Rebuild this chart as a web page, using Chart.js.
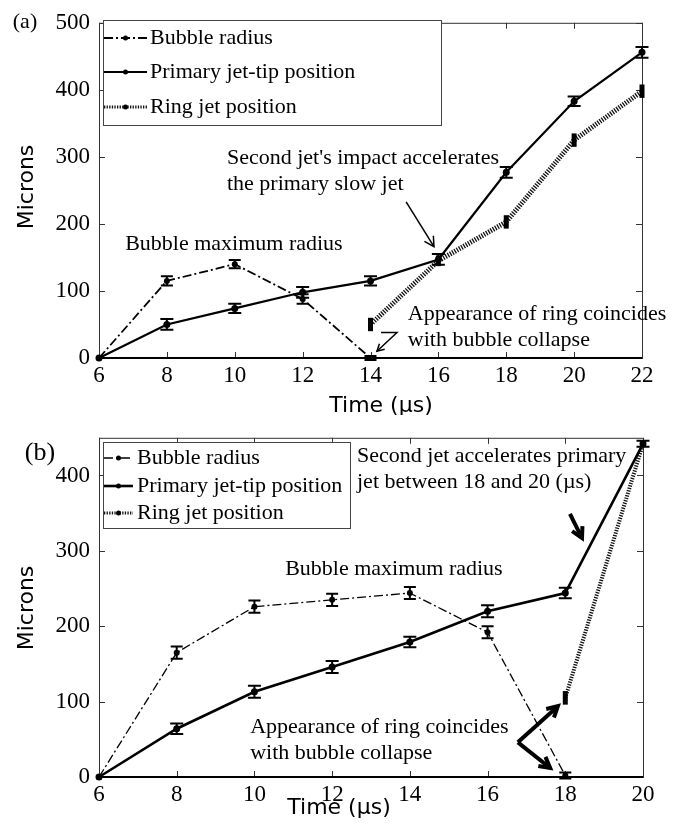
<!DOCTYPE html>
<html>
<head>
<meta charset="utf-8">
<script src="https://cdn.jsdelivr.net/npm/chart.js@4"></script>
<style>
  html, body { margin: 0; padding: 0; background: #fff; }
  #wrap { position: relative; width: 678px; height: 830px; }
  canvas { position: absolute; left: 0; }
  #chartA { top: 0; }
  #chartB { top: 415px; }
</style>
</head>
<body>
<div id="wrap">
  <canvas id="chartA" width="678" height="415"></canvas>
  <canvas id="chartB" width="678" height="415"></canvas>
</div>
<script>
// Panel (a)
const bubbleTimeA = [6, 8, 10, 12, 14];
const bubbleA = [0, 115, 140, 88, 0];
const bubbleErrA = [0, 7, 6, 7, 3];
const primaryTimeA = [6, 8, 10, 12, 14, 16, 18, 20, 22];
const primaryA = [0, 50, 74, 98, 115, 147, 277, 383, 456];
const primaryErrA = [0, 8, 7, 8, 7, 8, 8, 7, 8];
const ringTimeA = [14, 16, 18, 20, 22];
const ringA = [50, 145, 203, 325, 398];
const ringErrA = [10, 8, 10, 10, 10];
const xTicksA = [6, 8, 10, 12, 14, 16, 18, 20, 22];
const yTicksA = [0, 100, 200, 300, 400, 500];

// Panel (b)
const bubbleTimeB = [6, 8, 10, 12, 14, 16, 18];
const bubbleB = [0, 165, 226, 235, 244, 192, 2];
const bubbleErrB = [0, 8, 8, 8, 8, 8, 4];
const primaryTimeB = [6, 8, 10, 12, 14, 16, 18, 20];
const primaryB = [0, 64, 113, 146, 179, 220, 244, 442];
const primaryErrB = [0, 7, 8, 8, 7, 8, 7, 4];
const ringTimeB = [18, 20];
const ringB = [105, 442];
const ringErrB = [9, 4];
const xTicksB = [6, 8, 10, 12, 14, 16, 18, 20];
const yTicksB = [0, 100, 200, 300, 400];

const seriesLabels = ['Bubble radius', 'Primary jet-tip position', 'Ring jet position'];

const SERIF = '"Liberation Serif", "Times New Roman", serif';
const SANS = '"DejaVu Sans", Verdana, sans-serif';

function series(label, times, values, errors, style) {
    return Object.assign({
        label,
        data: times.map((t, i) => ({ x: t, y: values[i] })),
        errors,
        borderColor: '#000',
        pointBackgroundColor: '#000',
        pointBorderWidth: 0,
        tension: 0,
        clip: false
    }, style);
}

// Frame with inward ticks on all four sides
const framePlugin = {
    id: 'frame',
    beforeDatasetsDraw(chart) {
        const { ctx, chartArea: a, scales } = chart;
        ctx.save();
        ctx.strokeStyle = '#333';
        ctx.lineWidth = 1;
        ctx.strokeRect(a.left + 0.5, a.top + 0.5, a.right - a.left, a.bottom - a.top);
        ctx.beginPath();
        scales.x.ticks.forEach(t => {
            const x = Math.round(scales.x.getPixelForValue(t.value)) + 0.5;
            ctx.moveTo(x, a.bottom); ctx.lineTo(x, a.bottom - 6);
            ctx.moveTo(x, a.top); ctx.lineTo(x, a.top + 6);
        });
        scales.y.ticks.forEach(t => {
            const y = Math.round(scales.y.getPixelForValue(t.value)) + 0.5;
            ctx.moveTo(a.left, y); ctx.lineTo(a.left + 6, y);
            ctx.moveTo(a.right, y); ctx.lineTo(a.right - 6, y);
        });
        ctx.stroke();
        ctx.strokeStyle = '#000';
        ctx.lineWidth = 2;
        ctx.beginPath();
        ctx.moveTo(a.left, a.bottom); ctx.lineTo(a.right, a.bottom);
        ctx.stroke();
        ctx.restore();
    }
};

// Error bars from dataset.errors
const errorBarPlugin = {
    id: 'errorBars',
    afterDatasetsDraw(chart) {
        const ctx = chart.ctx, y = chart.scales.y;
        chart.data.datasets.forEach((ds, i) => {
            if (!ds.errors) return;
            const meta = chart.getDatasetMeta(i);
            ctx.save();
            ctx.strokeStyle = '#000';
            ctx.lineWidth = ds.errWidth;
            ctx.setLineDash([]);
            meta.data.forEach((pt, j) => {
                const e = ds.errors[j];
                if (!e) return;
                const v = ds.data[j].y;
                const top = y.getPixelForValue(v + e), bot = y.getPixelForValue(v - e);
                const c = ds.capWidth / 2;
                ctx.beginPath();
                ctx.moveTo(pt.x, top); ctx.lineTo(pt.x, bot);
                if (c) {
                    ctx.moveTo(pt.x - c, top); ctx.lineTo(pt.x + c, top);
                    ctx.moveTo(pt.x - c, bot); ctx.lineTo(pt.x + c, bot);
                }
                ctx.stroke();
            });
            ctx.restore();
        });
    }
};

// Boxed legend inside the plot
const boxLegendPlugin = {
    id: 'boxLegend',
    afterDraw(chart, args, opts) {
        const ctx = chart.ctx;
        const [x0, y0, x1, y1] = opts.box;
        ctx.save();
        ctx.fillStyle = '#fff';
        ctx.fillRect(x0, y0, x1 - x0, y1 - y0);
        ctx.strokeStyle = '#444';
        ctx.lineWidth = 1;
        ctx.strokeRect(x0 + 0.5, y0 + 0.5, x1 - x0, y1 - y0);
        chart.data.datasets.forEach((ds, i) => {
            const y = opts.rows[i];
            ctx.strokeStyle = ds.borderColor;
            ctx.lineWidth = Math.min(ds.borderWidth, 3);
            ctx.setLineDash(ds.borderDash || []);
            ctx.beginPath();
            ctx.moveTo(opts.line[0], y); ctx.lineTo(opts.line[1], y);
            ctx.stroke();
            ctx.setLineDash([]);
            ctx.fillStyle = '#000';
            ctx.beginPath();
            ctx.arc((opts.line[0] + opts.line[1]) / 2, y, 2.5, 0, Math.PI * 2);
            ctx.fill();
            ctx.font = '22px ' + SERIF;
            ctx.textBaseline = 'middle';
            ctx.textAlign = 'left';
            ctx.fillText(ds.label, opts.textX, y);
        });
        ctx.restore();
    }
};

function drawArrow(ctx, pts, width, head) {
    ctx.lineWidth = width;
    ctx.lineJoin = 'miter';
    ctx.beginPath();
    pts.forEach((p, i) => i ? ctx.lineTo(p[0], p[1]) : ctx.moveTo(p[0], p[1]));
    ctx.stroke();
    const [x1, y1] = pts[pts.length - 2], [x2, y2] = pts[pts.length - 1];
    const ang = Math.atan2(y2 - y1, x2 - x1);
    ctx.beginPath();
    ctx.moveTo(x2 - head * Math.cos(ang - 0.5), y2 - head * Math.sin(ang - 0.5));
    ctx.lineTo(x2, y2);
    ctx.lineTo(x2 - head * Math.cos(ang + 0.5), y2 - head * Math.sin(ang + 0.5));
    ctx.stroke();
}

// Annotations, panel tag and axis titles
const notesPlugin = {
    id: 'notes',
    afterDraw(chart, args, opts) {
        const { ctx, scales } = chart;
        const px = (t, v) => [scales.x.getPixelForValue(t), scales.y.getPixelForValue(v)];
        ctx.save();
        ctx.fillStyle = '#000';
        ctx.strokeStyle = '#000';
        ctx.textBaseline = 'middle';
        ctx.textAlign = 'left';
        ctx.font = '22px ' + SERIF;
        opts.texts.forEach(n => {
            const [x, y] = px(n.t, n.v);
            n.lines.forEach((line, k) => ctx.fillText(line, x, y + k * 26));
        });
        opts.arrows.forEach(a => drawArrow(ctx, a.pts.map(p => px(p[0], p[1])), a.width, a.head));
        ctx.textAlign = 'center';
        ctx.font = opts.tag.size + 'px ' + SERIF;
        ctx.fillText(opts.tag.text, opts.tag.x, opts.tag.y);
        ctx.font = '22px ' + SANS;
        ctx.fillText('Time (\u00b5s)', opts.xTitle.x, opts.xTitle.y);
        ctx.translate(opts.yTitle.x, opts.yTitle.y);
        ctx.rotate(-Math.PI / 2);
        ctx.fillText('Microns', 0, 0);
        ctx.restore();
    }
};

function makeChart(id, datasets, xTicks, yTicks, xMax, yMax, area, legend, notes) {
    const canvasH = 415;
    return new Chart(document.getElementById(id), {
        type: 'line',
        data: { datasets },
        options: {
            responsive: false,
            animation: false,
            devicePixelRatio: 1,
            layout: { padding: { left: 0, right: 678 - area.right, top: area.top, bottom: 0 } },
            scales: {
                x: {
                    type: 'linear', min: 6, max: xMax,
                    afterBuildTicks: s => { s.ticks = xTicks.map(v => ({ value: v })); },
                    afterFit: s => { s.height = canvasH - area.bottom; },
                    grid: { display: false, drawTicks: false },
                    border: { display: false },
                    ticks: { color: '#000', padding: 4, font: { family: SERIF, size: 23 } }
                },
                y: {
                    min: 0, max: yMax,
                    afterBuildTicks: s => { s.ticks = yTicks.map(v => ({ value: v })); },
                    afterFit: s => { s.width = area.left; },
                    grid: { display: false, drawTicks: false },
                    border: { display: false },
                    ticks: { color: '#000', padding: 9, font: { family: SERIF, size: 23 } }
                }
            },
            plugins: {
                legend: { display: false },
                tooltip: { enabled: false },
                boxLegend: legend,
                notes
            }
        },
        plugins: [framePlugin, errorBarPlugin, boxLegendPlugin, notesPlugin]
    });
}

const bubbleStyle = { borderWidth: 1.8, borderDash: [9, 3, 2, 3], pointRadius: 3, errWidth: 2, capWidth: 12 };
const primaryStyle = { borderWidth: 2.2, borderDash: [], pointRadius: 3.5, errWidth: 2, capWidth: 13 };
const ringStyle = { borderColor: '#111', borderWidth: 5, borderDash: [1.3, 1.3], pointRadius: 0, errWidth: 5, capWidth: 0 };

makeChart('chartA', [
    series(seriesLabels[0], bubbleTimeA, bubbleA, bubbleErrA, bubbleStyle),
    series(seriesLabels[1], primaryTimeA, primaryA, primaryErrA, primaryStyle),
    series(seriesLabels[2], ringTimeA, ringA, ringErrA, ringStyle)
], xTicksA, yTicksA, 22, 500,
{ left: 99, right: 642, top: 17, bottom: 358 },
{ box: [103, 20, 441, 125], rows: [38, 72, 107], line: [104, 147], textX: 150 },
{
    tag: { text: '(a)', x: 25, y: 22, size: 22 },
    xTitle: { x: 381, y: 406 },
    yTitle: { x: 27, y: 187 },
    texts: [
        { t: 6.77, v: 170, lines: ['Bubble maximum radius'] },
        { t: 9.77, v: 298, lines: ["Second jet's impact accelerates", 'the primary slow jet'] },
        { t: 15.1, v: 66, lines: ['Appearance of ring coincides', 'with bubble collapse'] }
    ],
    arrows: [
        { pts: [[15.05, 233], [15.87, 166]], width: 1.5, head: 11 },
        { pts: [[14.31, 38], [14.78, 38], [14.19, 10]], width: 1.5, head: 8 }
    ]
});

makeChart('chartB', [
    series(seriesLabels[0], bubbleTimeB, bubbleB, bubbleErrB, Object.assign({}, bubbleStyle, { borderWidth: 1.3 })),
    series(seriesLabels[1], primaryTimeB, primaryB, primaryErrB, Object.assign({}, primaryStyle, { borderWidth: 2.6 })),
    series(seriesLabels[2], ringTimeB, ringB, ringErrB, Object.assign({}, ringStyle, { borderWidth: 4 }))
], xTicksB, yTicksB, 20, 450,
{ left: 99, right: 643, top: 22, bottom: 362 },
{ box: [103, 27, 350, 113], rows: [43, 71, 98], line: [104, 133], textX: 137 },
{
    tag: { text: '(b)', x: 40, y: 38, size: 26 },
    xTitle: { x: 339, y: 393 },
    yTitle: { x: 27, y: 193 },
    texts: [
        { t: 12.64, v: 425, lines: ['Second jet accelerates primary', 'jet between 18 and 20 (\u00b5s)'] },
        { t: 10.79, v: 276, lines: ['Bubble maximum radius'] },
        { t: 9.89, v: 66, lines: ['Appearance of ring coincides', 'with bubble collapse'] }
    ],
    arrows: [
        { pts: [[18.12, 349], [18.43, 317]], width: 4, head: 12 },
        { pts: [[16.78, 46], [17.81, 94]], width: 4, head: 12 },
        { pts: [[16.78, 46], [17.61, 12]], width: 4, head: 12 }
    ]
});
</script>
</body>
</html>
